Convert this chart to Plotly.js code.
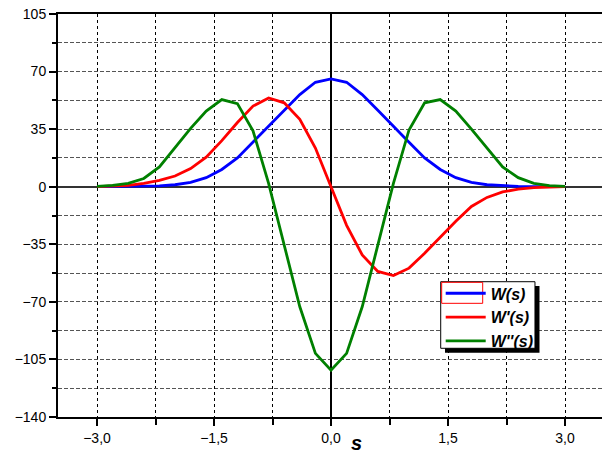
<!DOCTYPE html>
<html>
<head>
<meta charset="utf-8">
<script src="https://cdn.plot.ly/plotly-3.0.1.min.js"></script>
<style>html,body{margin:0;padding:0;background:#fff;}#chart{width:602px;height:454px;}</style>
</head>
<body>
<div id="chart"></div>
<script>
// sample positions s
var s = [-3.0, -2.8, -2.6, -2.4, -2.2, -2.0, -1.8, -1.6, -1.4, -1.2, -1.0, -0.8, -0.6, -0.4, -0.2, 0.0,
         0.2, 0.4, 0.6, 0.8, 1.0, 1.2, 1.4, 1.6, 1.8, 2.0, 2.2, 2.4, 2.6, 2.8, 3.0];
// W(s)
var W = [0, 0.05, 0.1, 0.2, 0.5, 1.2, 2.6, 5.5, 10.5, 17.5, 27, 36.5, 46.5, 56, 63.5, 65.6,
         63.5, 56, 46.5, 36.5, 27, 17.5, 10.5, 5.5, 2.6, 1.2, 0.5, 0.2, 0.1, 0.05, 0];
// W'(s)
var W1 = [0, 0.3, 0.8, 2, 3.8, 6.5, 11, 18, 28, 39, 49, 54, 51, 41, 23.5, 0,
          -23.5, -41.5, -51.5, -54, -49.5, -40.5, -30.5, -21, -12, -6.5, -3.2, -1.5, -0.6, -0.2, 0];
// W''(s)
var W2 = [0.2, 0.8, 2, 5, 12, 23.5, 35.5, 46, 53, 50.5, 34, 2, -35.5, -73, -101.3, -111.6,
          -101.3, -73, -35.5, 2, 34.5, 51, 53, 46, 35, 23.5, 12, 5.5, 2, 0.7, 0.2];

var names = ["<b><i>W(s)</i></b>", "<b><i>W'(s)</i></b>", "<b><i>W''(s)</i></b>"];
var colors = ["#0000ff", "#ff0000", "#008000"];
var series = [W, W1, W2];

var traces = series.map(function (ys, i) {
  return {x: s, y: ys, type: 'scatter', mode: 'lines', name: names[i],
          line: {color: colors[i], width: 2.8}};
});

var font = {family: 'Liberation Sans, Arial, sans-serif', size: 14, color: '#000'};

var layout = {
  width: 602, height: 454,
  margin: {l: 58, r: 0, t: 14, b: 37},
  paper_bgcolor: '#fff', plot_bgcolor: '#fff',
  separators: ',.',
  font: font,
  showlegend: true,
  legend: {x: 0.7035, y: 0.349, xanchor: 'left', yanchor: 'top',
           bgcolor: 'rgba(0,0,0,0)', borderwidth: 0, tracegroupgap: 0,
           itemwidth: 40,
           font: {family: 'Liberation Sans, Arial, sans-serif', size: 16, color: '#000'}},
  xaxis: {
    range: [-3.5, 3.474], tick0: 0, dtick: 1.5, tickformat: '.1f',
    ticks: 'outside', ticklen: 7, tickwidth: 2, tickcolor: '#000',
    showline: true, linewidth: 2, linecolor: '#000', mirror: true,
    showgrid: true, gridcolor: '#000', griddash: '3px,3px', gridwidth: 1,
    zeroline: true, zerolinecolor: '#000', zerolinewidth: 2,
    tickfont: font,
    minor: {dtick: 0.75, tick0: 0, ticks: 'outside', ticklen: 6, tickwidth: 2, tickcolor: '#000',
            showgrid: true, gridcolor: '#000', griddash: '3px,3px', gridwidth: 1}
  },
  yaxis: {
    range: [-140, 105], tick0: 0, dtick: 35,
    ticks: 'outside', ticklen: 7, tickwidth: 2, tickcolor: '#000',
    showline: true, linewidth: 2, linecolor: '#000',
    showgrid: true, gridcolor: '#555', griddash: '4px,2px', gridwidth: 1,
    zeroline: true, zerolinecolor: '#333', zerolinewidth: 2,
    tickfont: font,
    minor: {dtick: 17.5, tick0: 0, ticks: 'outside', ticklen: 4, tickwidth: 2, tickcolor: '#000',
            showgrid: true, gridcolor: '#555', griddash: '4px,2px', gridwidth: 1}
  },
  shapes: [
    {type: 'rect', xref: 'paper', yref: 'paper', x0: 0.7114, x1: 0.8851, y0: 0.1596, y1: 0.3251,
     fillcolor: '#000', line: {width: 0}, layer: 'above'},
    {type: 'rect', xref: 'paper', yref: 'paper', x0: 0.7035, x1: 0.8768, y0: 0.1705, y1: 0.3357,
     fillcolor: '#fff', line: {color: '#000', width: 1}, layer: 'above'},
    {type: 'rect', xref: 'paper', yref: 'paper', x0: 0.7053, x1: 0.7807, y0: 0.2821, y1: 0.3342,
     fillcolor: 'rgba(0,0,0,0)', line: {color: '#ff0000', width: 1}, layer: 'above'}
  ],
  annotations: [
    {text: '<b><i>s</i></b>', xref: 'paper', yref: 'paper', x: 0.5478, y: -0.064,
     xanchor: 'center', yanchor: 'middle', showarrow: false,
     font: {family: 'Liberation Sans, Arial, sans-serif', size: 20, color: '#000'}}
  ]
};

Plotly.newPlot('chart', traces, layout, {displayModeBar: false, staticPlot: true});
</script>
</body>
</html>
